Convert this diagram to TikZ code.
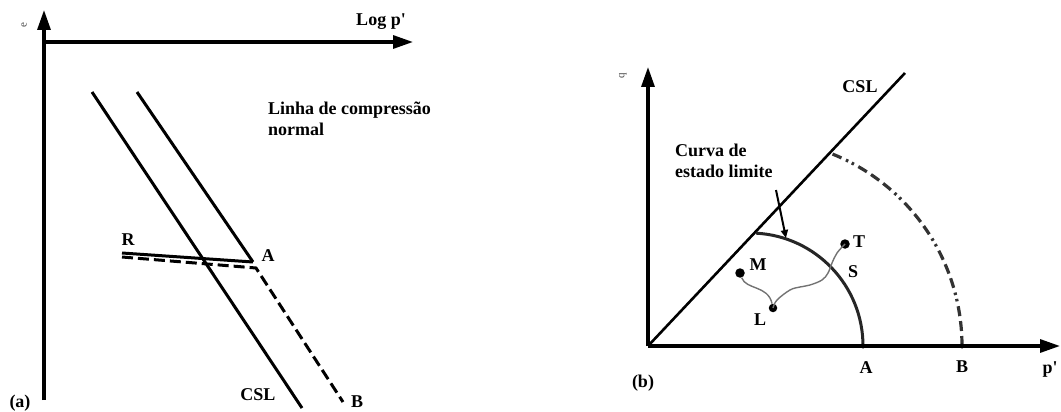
\documentclass[tikz,border=0pt]{standalone}
\usepackage{fontspec}
\setmainfont{Liberation Serif}
\usetikzlibrary{arrows.meta}
\newcommand{\pq}{\textquotesingle}
\begin{document}
\begin{tikzpicture}[x=1pt,y=-1pt,
  axis/.style={line width=3.2pt,-{Triangle[length=20pt,width=13pt]}},
  thickline/.style={line width=3pt},
  dashline/.style={line width=3pt,dash pattern=on 11pt off 5pt},
  lbl/.style={font=\bfseries\fontsize{18}{21}\selectfont,inner sep=0pt},
  small/.style={font=\fontsize{11}{12}\selectfont,inner sep=0pt,text=black!70},
  dot/.style={circle,fill=black,inner sep=0pt,minimum size=9.5pt},
  path/.style={line width=1.4pt,draw=black!55}]
\useasboundingbox (0,0) rectangle (1061,412);
% ---------------- panel (a)
\coordinate (aO) at (44,400);
\coordinate (aY) at (44,10);
\coordinate (aX1) at (44,42);
\coordinate (aX2) at (413,42);
\draw[axis] (aO) -- (aY);
\draw[axis] (aX1) -- (aX2);
\node[small,rotate=90] (ea) at (24,25) {e};
\node[lbl] (logp) at (381,22) {Log p\pq};
\coordinate (c1) at (92,92);
\coordinate (c2) at (302,408);
\coordinate (n1) at (137,92);
\coordinate (A) at (253,262);
\coordinate (R) at (122,253);
\coordinate (R2) at (122,257);
\coordinate (A2) at (256,268);
\coordinate (Bb) at (343,402);
\draw[thickline] (c1) -- (c2);
\draw[thickline] (n1) -- (A);
\draw[thickline] (R) -- (A);
\draw[dashline] (R2) -- (A2) -- (Bb);
\node[lbl,anchor=west,align=left] (ncl) at (268,119) {Linha de compressão\\normal};
\node[lbl] (Rl) at (128,240) {R};
\node[lbl] (Al) at (268,256) {A};
\node[lbl] (cslA) at (258,395) {CSL};
\node[lbl] (Bl) at (357,402) {B};
\node[lbl] (al) at (20,403) {(a)};
% ---------------- panel (b)
\coordinate (O) at (648,346);
\coordinate (Y) at (648,67);
\coordinate (X) at (1060,346);
\draw[axis] (O) -- (Y);
\draw[axis] (O) -- (X);
\node[small,rotate=90] (qb) at (623,76) {q};
\coordinate (csltop) at (905,73);
\draw[line width=2.6pt] (O) -- (csltop);
\node[lbl] (cslB) at (860,87) {CSL};
% yield curves
\coordinate (Ap) at (863,346);
\coordinate (Bp) at (962,346);
\draw[line width=3pt,draw=black!85] (Ap) arc[start angle=0,end angle=-87,radius=113];
\draw[line width=3.2pt,draw=black!80,dash pattern=on 10pt off 5pt on 10pt off 5pt on 10pt off 5pt on 2.5pt off 4pt on 2.5pt off 5pt] (Bp) arc[start angle=0,end angle=-68,radius=207];
\fill (Ap) circle[radius=2.5];
\fill (Bp) circle[radius=2.5];
% stress path
\node[dot] (M) at (740,273) {};
\node[dot,minimum size=8.5pt] (L) at (773,308) {};
\node[dot] (T) at (845,244) {};
\draw[path] (M) .. controls (746,290) and (768,285) .. (L);
\draw[path] plot[smooth,tension=0.6] coordinates {(773,308) (777,300) (790,290) (800,287) (810,285) (822,280) (828,273) (832,263) (837,253) (845,244)};
\node[lbl] (Ml) at (758,265) {M};
\node[lbl] (Ll) at (760,320) {L};
\node[lbl] (Tl) at (859,242) {T};
\node[lbl] (Sl) at (853,272) {S};
% label and pointer
\node[lbl,anchor=north west,align=left] (curva) at (675,144) {Curva de\\estado limite};
\coordinate (ptr1) at (776,190);
\coordinate (ptr2) at (786,238);
\draw[line width=2pt,-{Triangle[length=8pt,width=7pt]}] (ptr1) -- (ptr2);
\node[lbl] (Alb) at (866,368) {A};
\node[lbl] (Blb) at (962,367) {B};
\node[lbl] (pl) at (1050,370) {p\pq};
\node[lbl] (bl) at (643,383) {(b)};
\end{tikzpicture}
\end{document}
